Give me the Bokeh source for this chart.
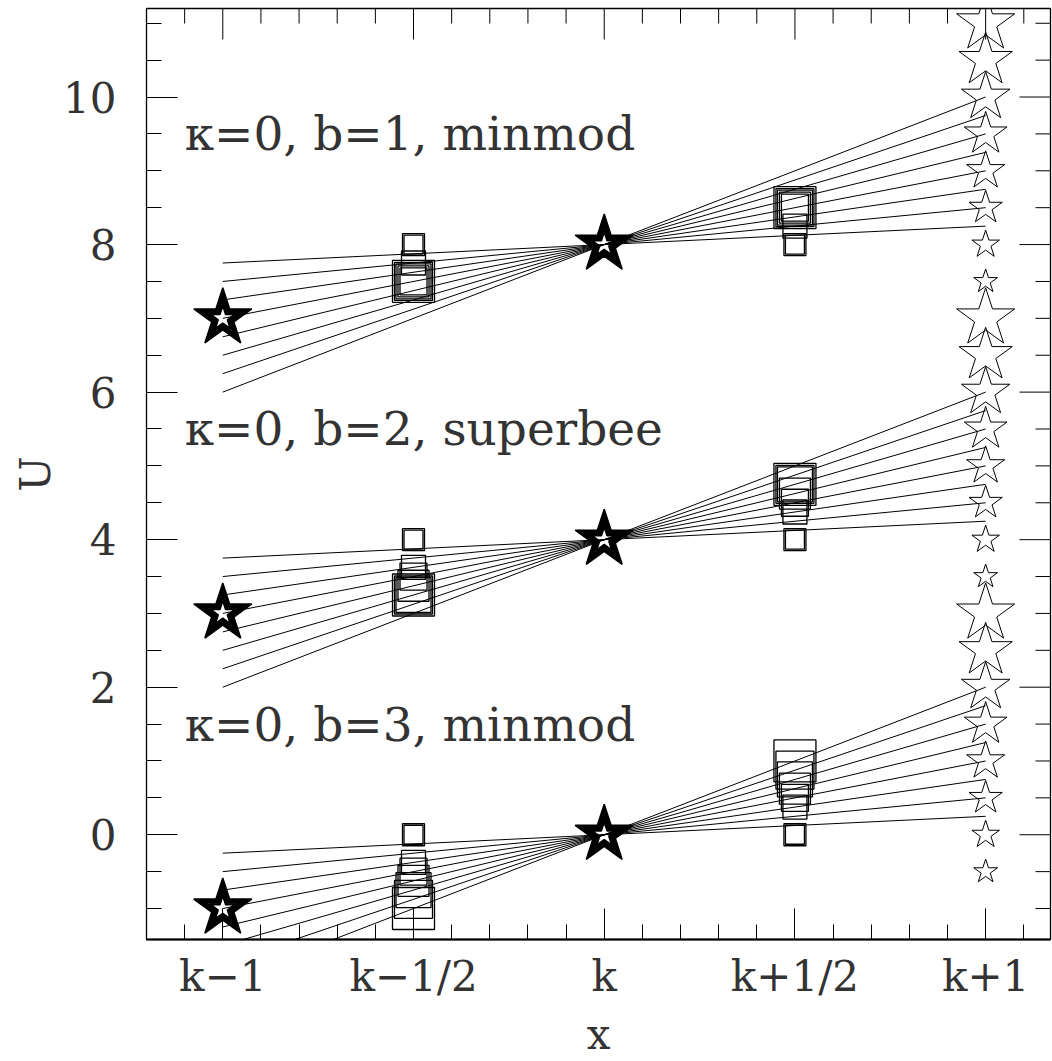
import math
from bokeh.plotting import figure
from bokeh.models import FixedTicker, Range1d
from bokeh.core.properties import value
from bokeh.embed import file_html
from bokeh.resources import INLINE

# ---------------- data ----------------
x_tick_values = [0, 0.5, 1, 1.5, 2]
x_tick_labels = ["k\u22121", "k\u22121/2", "k", "k+1/2", "k+1"]
y_tick_values = [0, 2, 4, 6, 8, 10]

panel_labels = ["\u03ba=0, b=1, minmod", "\u03ba=0, b=2, superbee", "\u03ba=0, b=3, minmod"]

# cell values U(k-1) and U(k) per panel
u_left = [7, 3, -1]
u_center = [8, 4, 0]

# U(k+1) values (the stars on the right) per panel
u_right_1 = [7.5, 8.0, 8.5, 9.0, 9.5, 10.0, 10.5, 11.0]
u_right_2 = [3.5, 4.0, 4.5, 5.0, 5.5, 6.0, 6.5, 7.0]
u_right_3 = [-0.5, 0.0, 0.5, 1.0, 1.5, 2.0, 2.5, 3.0]

# unlimited (central) slope lines: value at k-1 and at k+1
line_left_1 = [7.75, 7.5, 7.25, 7.0, 6.75, 6.5, 6.25, 6.0]
line_right_1 = [8.25, 8.5, 8.75, 9.0, 9.25, 9.5, 9.75, 10.0]
line_left_2 = [3.75, 3.5, 3.25, 3.0, 2.75, 2.5, 2.25, 2.0]
line_right_2 = [4.25, 4.5, 4.75, 5.0, 5.25, 5.5, 5.75, 6.0]
line_left_3 = [-0.25, -0.5, -0.75, -1.0, -1.25, -1.5, -1.75, -2.0]
line_right_3 = [0.25, 0.5, 0.75, 1.0, 1.25, 1.5, 1.75, 2.0]

# limited interface values at k-1/2 and k+1/2
face_left_1 = [8.0, 8.0, 7.75, 7.5, 7.5, 7.5, 7.5, 7.5]
face_right_1 = [8.0, 8.0, 8.25, 8.5, 8.5, 8.5, 8.5, 8.5]
face_left_2 = [4.0, 4.0, 3.625, 3.5, 3.375, 3.25, 3.25, 3.25]
face_right_2 = [4.0, 4.0, 4.375, 4.5, 4.625, 4.75, 4.75, 4.75]
face_left_3 = [0.0, 0.0, -0.375, -0.5, -0.625, -0.75, -0.875, -1.0]
face_right_3 = [0.0, 0.0, 0.375, 0.5, 0.625, 0.75, 0.875, 1.0]

# ---------------- styles ----------------
star_sizes = [25, 29, 35, 40, 45, 51, 56, 61]
square_sizes = [19, 22, 24, 27, 31, 35, 38, 42]
FONT = "DejaVu Serif"
TXT = "#333333"
X0, X1 = -0.2, 2.17
Y0, Y1 = -1.42, 11.2
MAJOR_LEN, MINOR_LEN = 31, 15

p = figure(width=1052, height=1061, output_backend="svg", toolbar_location=None,
           x_range=Range1d(X0, X1), y_range=Range1d(Y0, Y1),
           min_border_left=146, min_border_right=2, min_border_top=8, min_border_bottom=121)
p.grid.visible = False
p.outline_line_color = "black"
p.outline_line_width = 1.3
p.background_fill_color = "white"
p.border_fill_color = "white"

x_minor = [round(-0.2 + 0.1 * i, 2) for i in range(24)]
y_minor = [round(-1.0 + 0.5 * i, 2) for i in range(25)]


def style_axis(ax, ticker):
    ax.ticker = ticker
    ax.major_tick_in = MAJOR_LEN
    ax.major_tick_out = 0
    ax.minor_tick_in = MINOR_LEN
    ax.minor_tick_out = 0
    ax.major_tick_line_color = "black"
    ax.minor_tick_line_color = "black"
    ax.axis_line_color = "black"
    ax.major_label_text_font = FONT
    ax.major_label_text_font_size = "42px"
    ax.major_label_text_color = TXT
    ax.axis_label_text_font = FONT
    ax.axis_label_text_font_size = "42px"
    ax.axis_label_text_color = TXT
    ax.axis_label_text_font_style = "normal"


style_axis(p.xaxis[0], FixedTicker(ticks=x_tick_values, minor_ticks=x_minor))
p.xaxis[0].major_label_overrides = {v: s for v, s in zip(x_tick_values, x_tick_labels)}
p.xaxis[0].major_label_standoff = 12
p.xaxis[0].axis_label = "x"
p.xaxis[0].axis_label_standoff = 6
p.xaxis[0].axis_line_width = 2.2

style_axis(p.yaxis[0], FixedTicker(ticks=y_tick_values, minor_ticks=y_minor))
p.yaxis[0].major_label_standoff = 30
p.yaxis[0].axis_label = "U"
p.yaxis[0].axis_label_standoff = 0

# mirrored inward ticks on the top and right frame edges
x_minor_only = [v for v in x_minor if v not in x_tick_values]
y_minor_only = [v for v in y_minor if v not in y_tick_values]
p.ray(x=x_tick_values, y=[Y1] * len(x_tick_values), length=MAJOR_LEN, length_units="screen",
      angle=-math.pi / 2, line_color="black", line_width=1)
p.ray(x=x_minor_only, y=[Y1] * len(x_minor_only), length=MINOR_LEN, length_units="screen",
      angle=-math.pi / 2, line_color="black", line_width=1)
p.ray(x=[X1] * len(y_tick_values), y=y_tick_values, length=MAJOR_LEN, length_units="screen",
      angle=math.pi, line_color="black", line_width=1)
p.ray(x=[X1] * len(y_minor_only), y=y_minor_only, length=MINOR_LEN, length_units="screen",
      angle=math.pi, line_color="black", line_width=1)

panels = [
    (u_right_1, line_left_1, line_right_1, face_left_1, face_right_1),
    (u_right_2, line_left_2, line_right_2, face_left_2, face_right_2),
    (u_right_3, line_left_3, line_right_3, face_left_3, face_right_3),
]

for j, (ur, ll, lr, fl, fr) in enumerate(panels):
    n = len(ur)
    # central-slope lines from k-1 to k+1
    p.segment(x0=[x_tick_values[0]] * n, y0=ll, x1=[x_tick_values[4]] * n, y1=lr,
              line_color="black", line_width=1)
    # limited interface values
    p.scatter(x=[x_tick_values[1]] * n, y=fl, size=square_sizes, marker="square",
              fill_alpha=0, line_color="black", line_width=1.3)
    p.scatter(x=[x_tick_values[3]] * n, y=fr, size=square_sizes, marker="square",
              fill_alpha=0, line_color="black", line_width=1.3)
    # cell values: stars at k-1 and k (overplotted for every case)
    p.scatter(x=[x_tick_values[0]] * n, y=[u_left[j]] * n, size=star_sizes, marker="star",
              fill_alpha=0, line_color="black", line_width=1.5)
    p.scatter(x=[x_tick_values[2]] * n, y=[u_center[j]] * n, size=star_sizes, marker="star",
              fill_alpha=0, line_color="black", line_width=1.5)
    # stars at k+1
    p.scatter(x=[x_tick_values[4]] * n, y=ur, size=star_sizes, marker="star",
              fill_alpha=0, line_color="black", line_width=1)

label_x = -0.1
label_y = [u + 1.5 for u in u_center]
p.text(x=[label_x] * 3, y=label_y, text=panel_labels, text_font=value(FONT),
       text_font_size="47px", text_baseline="middle", text_align="left", text_color=TXT)

open("out.html", "w").write(file_html(p, INLINE))
